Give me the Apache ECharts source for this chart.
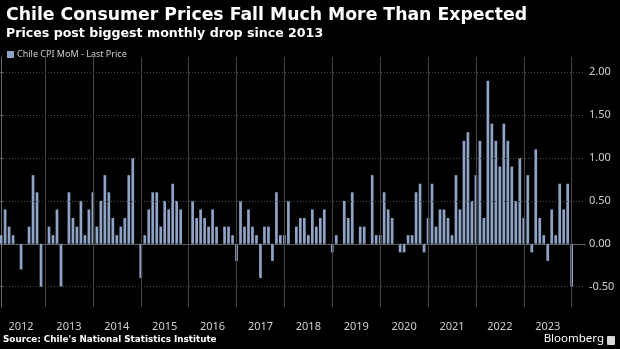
<!DOCTYPE html>
<html>
<head>
<meta charset="utf-8">
<script src="https://cdn.jsdelivr.net/npm/echarts@6/dist/echarts.min.js"></script>
<style>
  html, body { margin: 0; padding: 0; background: #000; }
  #chart { width: 620px; height: 349px; }
</style>
</head>
<body>
<div id="chart"></div>
<script>
// Calendar years shown on the time axis
const years = [2012, 2013, 2014, 2015, 2016, 2017, 2018, 2019, 2020, 2021, 2022, 2023];

// Chile CPI, month-over-month change in %, Jan..Dec of each year
const cpiMoM = [
  0.1, 0.4, 0.2, 0.1, 0.0, -0.3, 0.0, 0.2, 0.8, 0.6, -0.5, 0.0,   // 2012
  0.2, 0.1, 0.4, -0.5, 0.0, 0.6, 0.3, 0.2, 0.5, 0.1, 0.4, 0.6,    // 2013
  0.2, 0.5, 0.8, 0.6, 0.3, 0.1, 0.2, 0.3, 0.8, 1.0, 0.0, -0.4,    // 2014
  0.1, 0.4, 0.6, 0.6, 0.2, 0.5, 0.4, 0.7, 0.5, 0.4, 0.0, 0.0,     // 2015
  0.5, 0.3, 0.4, 0.3, 0.2, 0.4, 0.2, 0.0, 0.2, 0.2, 0.1, -0.2,    // 2016
  0.5, 0.2, 0.4, 0.2, 0.1, -0.4, 0.2, 0.2, -0.2, 0.6, 0.1, 0.1,   // 2017
  0.5, 0.0, 0.2, 0.3, 0.3, 0.1, 0.4, 0.2, 0.3, 0.4, 0.0, -0.1,    // 2018
  0.1, 0.0, 0.5, 0.3, 0.6, 0.0, 0.2, 0.2, 0.0, 0.8, 0.1, 0.1,     // 2019
  0.6, 0.4, 0.3, 0.0, -0.1, -0.1, 0.1, 0.1, 0.6, 0.7, -0.1, 0.3,  // 2020
  0.7, 0.2, 0.4, 0.4, 0.3, 0.1, 0.8, 0.4, 1.2, 1.3, 0.5, 0.8,     // 2021
  1.2, 0.3, 1.9, 1.4, 1.2, 0.9, 1.4, 1.2, 0.9, 0.5, 1.0, 0.3,     // 2022
  0.8, -0.1, 1.1, 0.3, 0.1, -0.2, 0.4, 0.1, 0.7, 0.4, 0.7, -0.5   // 2023
];

// Value-axis tick labels
const yTicks = [-0.5, 0, 0.5, 1, 1.5, 2];

const BAR = '#8ea3c6';
const TEXT = '#cfcfcf';
const FONT = '"Noto Sans", "Open Sans", sans-serif';

// Each month sits at its month-end; December of a year marks the year boundary
const points = cpiMoM.map((v, i) => [i, v]);
const yearEnds = years.map((y, k) => k * 12 + 11);
const yearMids = years.map((y, k) => k * 12 + 5);
const lastValue = cpiMoM[cpiMoM.length - 1];

const chart = echarts.init(document.getElementById('chart'), null, { renderer: 'canvas' });

chart.setOption({
  backgroundColor: '#000',
  animation: false,
  title: {
    left: 1,
    top: 2,
    itemGap: 3,
    text: 'Chile Consumer Prices Fall Much More Than Expected',
    textStyle: { color: '#fff', fontFamily: '"DejaVu Sans", sans-serif', fontWeight: 'bold', fontSize: 17.3 },
    subtext: 'Prices post biggest monthly drop since 2013',
    subtextStyle: { color: '#fff', fontFamily: '"DejaVu Sans", sans-serif', fontWeight: 'bold', fontSize: 12.6 }
  },
  legend: {
    left: 2,
    top: 45,
    itemWidth: 7,
    itemHeight: 7,
    itemGap: 4,
    icon: 'rect',
    textStyle: { color: TEXT, fontFamily: FONT, fontSize: 9, padding: [0, 0, 0, -2] },
    data: ['Chile CPI MoM - Last Price']
  },
  grid: { left: 0, right: 35, top: 57, bottom: 42, containLabel: false },
  xAxis: {
    type: 'value',
    min: -0.28,
    max: 146.34,
    splitLine: { show: false },
    axisLine: { show: true, lineStyle: { color: '#6a6a6a', width: 1 } },
    axisTick: {
      show: true,
      customValues: yearEnds,
      length: 23,
      lineStyle: { color: '#555', width: 1 }
    },
    axisLabel: {
      show: true,
      customValues: yearMids,
      formatter: v => String(years[Math.round((v - 5) / 12)]),
      color: TEXT,
      fontFamily: FONT,
      fontSize: 11,
      margin: 14
    }
  },
  yAxis: {
    type: 'value',
    position: 'right',
    min: -0.737,
    max: 2.177,
    splitLine: { show: false },
    axisLine: { show: true, lineStyle: { color: '#6a6a6a', width: 1 } },
    axisTick: { show: true, customValues: yTicks, length: 3, lineStyle: { color: '#6a6a6a' } },
    axisLabel: {
      show: true,
      customValues: yTicks,
      formatter: v => v.toFixed(2),
      color: TEXT,
      fontFamily: FONT,
      fontSize: 11,
      margin: 4
    }
  },
  series: [{
    name: 'Chile CPI MoM - Last Price',
    type: 'bar',
    data: points,
    barWidth: 2.7,
    itemStyle: { color: BAR },
    markLine: {
      silent: true,
      symbol: ['none', 'none'],
      animation: false,
      label: { show: false },
      data: [
        ...yTicks.map(v => ({ yAxis: v, lineStyle: { color: '#4a4a4a', type: [1, 2], width: 1 } })),
        ...yearEnds.map(v => ({ xAxis: v, lineStyle: { color: '#464646', type: 'solid', width: 1 } })),
        {
          yAxis: lastValue,
          lineStyle: { opacity: 0 },
          label: {
            show: true,
            position: 'end',
            distance: 4,
            formatter: () => lastValue.toFixed(2),
            color: '#0c0f1a',
            backgroundColor: BAR,
            fontFamily: FONT,
            fontSize: 11,
            padding: [1, 2, 0, 3],
            borderRadius: 1
          }
        }
      ]
    }
  }],
  graphic: [
    {
      type: 'text',
      left: 3,
      top: 335,
      style: {
        text: "Source: Chile's National Statistics Institute",
        fill: '#fff',
        font: 'bold 8.8px "DejaVu Sans", sans-serif'
      }
    },
    {
      type: 'text',
      right: 16,
      top: 333,
      style: { text: 'Bloomberg', fill: '#fff', font: '11.5px "Noto Sans", sans-serif' }
    },
    {
      type: 'rect',
      right: 5,
      top: 336,
      shape: { width: 8, height: 9, r: 1 },
      style: { fill: '#d8d8d8' }
    }
  ]
});
</script>
</body>
</html>
